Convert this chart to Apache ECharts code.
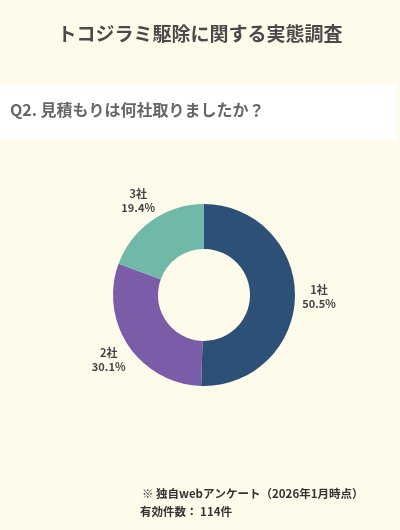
<!DOCTYPE html>
<html><head><meta charset="utf-8">
<script src="https://cdn.jsdelivr.net/npm/echarts@6/dist/echarts.min.js"></script>
<style>html,body{margin:0;padding:0;background:#fefbeb;}#c{width:400px;height:530px;}</style>
</head><body><div id="c"></div>
<script>
const titleText = 'トコジラミ駆除に関する実態調査';
const questionText = 'Q2. 見積もりは何社取りましたか？';
const categories = ['1社', '2社', '3社'];
const percents = [50.5, 30.1, 19.4];
const colors = ['#2d5076', '#7b5ca9', '#70b9a8'];
const noteLines = ['※ 独自webアンケート（2026年1月時点）', '有効件数： 114件'];

const font = '"Noto Sans CJK JP", "Noto Sans", sans-serif';
const data = categories.map((c, i) => ({ name: c, value: percents[i], itemStyle: { color: colors[i] } }));

const chart = echarts.init(document.getElementById('c'));
chart.setOption({
  backgroundColor: '#fefbeb',
  animation: false,
  title: {
    text: titleText, left: 'center', top: 19,
    textStyle: { fontFamily: font, fontSize: 19, fontWeight: 'bold', color: '#4a4a4a' }
  },
  graphic: [
    { type: 'rect', left: 0, top: 83, shape: { width: 397, height: 58 }, style: { fill: '#ffffff' }, z: -1 },
    { type: 'text', left: 10, top: 102, style: { text: questionText, font: 'bold 16px ' + font, fill: '#666666' } },
    { type: 'text', left: 142, top: 488, style: { text: noteLines[0], font: 'bold 11.5px ' + font, fill: '#333333' } },
    { type: 'text', left: 140, top: 506, style: { text: noteLines[1], font: 'bold 11.5px ' + font, fill: '#333333' } }
  ],
  series: [
    {
      type: 'pie', center: [204, 295], radius: [46, 91], startAngle: 90, clockwise: true,
      silent: true, label: { show: false }, labelLine: { show: false },
      data: data
    },
    {
      type: 'pie', center: [204, 295], radius: [100, 124], startAngle: 90, clockwise: true,
      silent: true, z: 3,
      itemStyle: { color: 'transparent' },
      label: {
        show: true, position: 'inside', formatter: '{b}\n{d}%',
        fontFamily: font, fontSize: 11, fontWeight: 'bold', color: '#444444', lineHeight: 14
      },
      labelLine: { show: false },
      data: categories.map((c, i) => ({ name: c, value: percents[i], itemStyle: { color: 'transparent' } }))
    }
  ]
});
</script></body></html>
